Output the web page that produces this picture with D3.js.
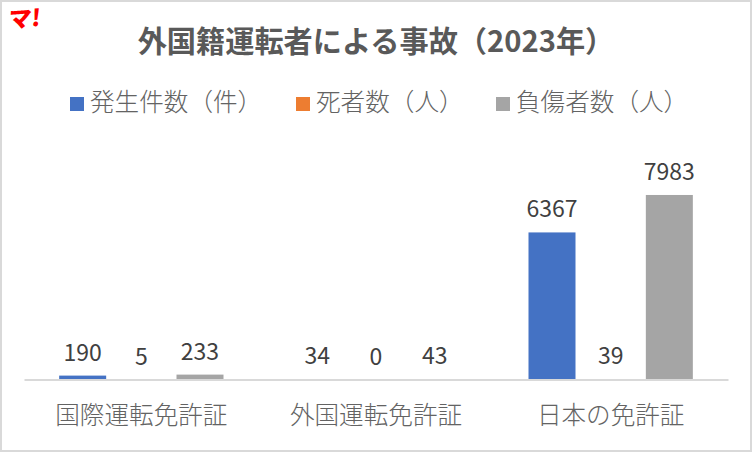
<!DOCTYPE html>
<html lang="ja">
<head>
<meta charset="utf-8">
<script src="https://cdn.jsdelivr.net/npm/d3@7"></script>
<style>
html,body{margin:0;padding:0;background:#fff;}
svg{display:block;}
text{font-family:"Noto Sans CJK JP","Noto Sans",sans-serif;}
</style>
</head>
<body>
<div id="chart"></div>
<script>
"use strict";
const categories = ["国際運転免許証","外国運転免許証","日本の免許証"];
const seriesNames = ["発生件数（件）","死者数（人）","負傷者数（人）"];
const seriesColors = ["#4472c4","#ed7d31","#a5a5a5"];
const incidents = [190,34,6367];
const deaths = [5,0,39];
const injured = [233,43,7983];
const seriesValues = [incidents,deaths,injured];

const W = 752, H = 452;
const svg = d3.select("#chart").append("svg").attr("width",W).attr("height",H);

// 外枠
svg.append("rect").attr("x",1).attr("y",1).attr("width",W-2).attr("height",H-2)
  .attr("fill","#fff").attr("stroke","#d9d9d9").attr("stroke-width",2);

const x = d3.scaleBand().domain(categories).range([24,728]);
const barW = 47;
const xInner = d3.scaleBand().domain(d3.range(seriesNames.length)).range([-88,88]);
const barX = (c,s)=> x(c)+x.bandwidth()/2 + xInner(s) + (xInner.bandwidth()-barW)/2;
const y = d3.scaleLinear().domain([0,9000]).range([380,171.4]);

svg.append("text").attr("x",376).attr("y",52).attr("text-anchor","middle")
  .attr("font-size",29.2).attr("font-weight",700).attr("fill","#595959")
  .text("外国籍運転者による事故（2023年）");

// 凡例
const legendX = [70,296,496];
seriesNames.forEach((n,i)=>{
  svg.append("rect").attr("x",legendX[i]).attr("y",97).attr("width",14).attr("height",14).attr("fill",seriesColors[i]);
  svg.append("text").attr("x",legendX[i]+20).attr("y",111).attr("font-size",24.6)
    .attr("font-weight",300).attr("fill","#636363").text(n);
});

// 棒
seriesValues.forEach((vals,s)=>{
  svg.append("g").selectAll("rect").data(vals).join("rect")
    .attr("x",(d,i)=>barX(categories[i],s)).attr("width",barW)
    .attr("y",(d)=>y(d)).attr("height",(d)=>y(0)-y(d)).attr("fill",seriesColors[s]);
  svg.append("g").selectAll("text").data(vals).join("text")
    .attr("x",(d,i)=>barX(categories[i],s)+barW/2).attr("y",(d)=>y(d)-15)
    .attr("text-anchor","middle").attr("font-size",23).attr("fill","#404040").text((d)=>d);
});

// X軸（棒の上に重ねる）
const axis = svg.append("g").attr("transform","translate(0,379.5)").call(d3.axisBottom(x).tickSize(0).tickPadding(27));
axis.select(".domain").attr("stroke","#d9d9d9").attr("stroke-width",2);
axis.selectAll("text").attr("font-size",24.6).attr("font-weight",300).attr("fill","#636363")
  .style("font-family",'"Noto Sans CJK JP",sans-serif');

// 左上のマーク
svg.append("text").attr("transform","translate(8,28) rotate(-4) skewX(-8)").attr("font-size",23).attr("font-weight",900)
  .attr("fill","#ff0000").text("マ!");
</script>
</body>
</html>
